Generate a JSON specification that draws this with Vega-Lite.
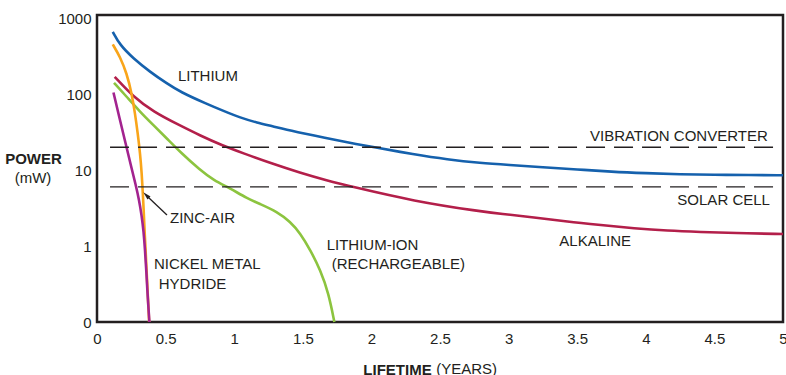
{
  "$schema": "https://vega.github.io/schema/vega-lite/v6.json",
  "autosize": "none",
  "width": 686,
  "height": 307,
  "padding": {"left": 97, "top": 15, "right": 3, "bottom": 53},
  "background": "white",
  "config": {
    "font": "Liberation Sans",
    "view": {"stroke": "#231f20", "strokeWidth": 2.5},
    "axis": {"grid": false, "ticks": false, "domain": false, "labelFontSize": 15, "labelColor": "#231f20", "titleColor": "#231f20", "titleFontSize": 15, "titleFontWeight": "bold", "labelOverlap": false},
    "axisX": {"labelPadding": 9, "labelFlush": false, "titleX": 300, "titleY": 52, "titleAlign": "center", "titleBaseline": "alphabetic"},
    "axisY": {"labelPadding": 6, "titleAngle": 0, "titleX": -64, "titleY": 143, "titleAlign": "center", "titleBaseline": "middle"}
  },
  "datasets": {
    "curves": [
      {"s": "Lithium", "t": 0.115, "p": 661},
      {"s": "Lithium", "t": 0.168, "p": 441},
      {"s": "Lithium", "t": 0.265, "p": 295},
      {"s": "Lithium", "t": 0.387, "p": 196},
      {"s": "Lithium", "t": 0.509, "p": 138},
      {"s": "Lithium", "t": 0.606, "p": 107},
      {"s": "Lithium", "t": 0.801, "p": 74},
      {"s": "Lithium", "t": 0.922, "p": 60},
      {"s": "Lithium", "t": 1.044, "p": 49},
      {"s": "Lithium", "t": 1.166, "p": 42},
      {"s": "Lithium", "t": 1.287, "p": 37.5},
      {"s": "Lithium", "t": 1.36, "p": 34.5},
      {"s": "Lithium", "t": 1.579, "p": 28.5},
      {"s": "Lithium", "t": 1.823, "p": 23.2},
      {"s": "Lithium", "t": 2.017, "p": 20.0},
      {"s": "Lithium", "t": 2.309, "p": 16.1},
      {"s": "Lithium", "t": 2.553, "p": 13.8},
      {"s": "Lithium", "t": 2.796, "p": 12.4},
      {"s": "Lithium", "t": 3.0, "p": 11.7},
      {"s": "Lithium", "t": 3.25, "p": 10.9},
      {"s": "Lithium", "t": 3.5, "p": 10.2},
      {"s": "Lithium", "t": 3.75, "p": 9.5},
      {"s": "Lithium", "t": 4.0, "p": 9.1},
      {"s": "Lithium", "t": 4.25, "p": 8.8},
      {"s": "Lithium", "t": 4.5, "p": 8.65},
      {"s": "Lithium", "t": 4.75, "p": 8.6},
      {"s": "Lithium", "t": 5.0, "p": 8.55},
      {"s": "Alkaline", "t": 0.129, "p": 169},
      {"s": "Alkaline", "t": 0.265, "p": 92},
      {"s": "Alkaline", "t": 0.411, "p": 58.5},
      {"s": "Alkaline", "t": 0.606, "p": 38.5},
      {"s": "Alkaline", "t": 0.752, "p": 28.5},
      {"s": "Alkaline", "t": 0.91, "p": 21.2},
      {"s": "Alkaline", "t": 1.068, "p": 16.6},
      {"s": "Alkaline", "t": 1.263, "p": 12.4},
      {"s": "Alkaline", "t": 1.482, "p": 9.2},
      {"s": "Alkaline", "t": 1.677, "p": 7.3},
      {"s": "Alkaline", "t": 1.847, "p": 6.1},
      {"s": "Alkaline", "t": 2.309, "p": 3.9},
      {"s": "Alkaline", "t": 2.796, "p": 2.85},
      {"s": "Alkaline", "t": 2.942, "p": 2.66},
      {"s": "Alkaline", "t": 3.185, "p": 2.39},
      {"s": "Alkaline", "t": 3.428, "p": 2.09},
      {"s": "Alkaline", "t": 3.672, "p": 1.89},
      {"s": "Alkaline", "t": 3.915, "p": 1.71},
      {"s": "Alkaline", "t": 4.158, "p": 1.59},
      {"s": "Alkaline", "t": 4.401, "p": 1.53},
      {"s": "Alkaline", "t": 4.645, "p": 1.48},
      {"s": "Alkaline", "t": 5.0, "p": 1.44},
      {"s": "Lithium-ion", "t": 0.124, "p": 141},
      {"s": "Lithium-ion", "t": 0.217, "p": 92},
      {"s": "Lithium-ion", "t": 0.314, "p": 58.5},
      {"s": "Lithium-ion", "t": 0.411, "p": 39.1},
      {"s": "Lithium-ion", "t": 0.509, "p": 26.1},
      {"s": "Lithium-ion", "t": 0.606, "p": 17.3},
      {"s": "Lithium-ion", "t": 0.752, "p": 10},
      {"s": "Lithium-ion", "t": 0.849, "p": 7.39},
      {"s": "Lithium-ion", "t": 0.971, "p": 5.74},
      {"s": "Lithium-ion", "t": 1.093, "p": 4.25},
      {"s": "Lithium-ion", "t": 1.19, "p": 3.57},
      {"s": "Lithium-ion", "t": 1.312, "p": 2.83},
      {"s": "Lithium-ion", "t": 1.409, "p": 2.09},
      {"s": "Lithium-ion", "t": 1.482, "p": 1.47},
      {"s": "Lithium-ion", "t": 1.555, "p": 0.886},
      {"s": "Lithium-ion", "t": 1.628, "p": 0.483},
      {"s": "Lithium-ion", "t": 1.688, "p": 0.239},
      {"s": "Lithium-ion", "t": 1.73, "p": 0.1},
      {"s": "Zinc-air", "t": 0.115, "p": 451},
      {"s": "Zinc-air", "t": 0.168, "p": 310},
      {"s": "Zinc-air", "t": 0.217, "p": 187},
      {"s": "Zinc-air", "t": 0.253, "p": 102},
      {"s": "Zinc-air", "t": 0.277, "p": 55.7},
      {"s": "Zinc-air", "t": 0.297, "p": 30.4},
      {"s": "Zinc-air", "t": 0.314, "p": 16.6},
      {"s": "Zinc-air", "t": 0.326, "p": 9.06},
      {"s": "Zinc-air", "t": 0.334, "p": 4.93},
      {"s": "Zinc-air", "t": 0.341, "p": 2.8},
      {"s": "Zinc-air", "t": 0.347, "p": 1.53},
      {"s": "Zinc-air", "t": 0.353, "p": 1.0},
      {"s": "Zinc-air", "t": 0.363, "p": 0.415},
      {"s": "Zinc-air", "t": 0.372, "p": 0.194},
      {"s": "Zinc-air", "t": 0.38, "p": 0.1},
      {"s": "Nickel metal hydride", "t": 0.12, "p": 105},
      {"s": "Nickel metal hydride", "t": 0.164, "p": 48.3},
      {"s": "Nickel metal hydride", "t": 0.208, "p": 22.6},
      {"s": "Nickel metal hydride", "t": 0.248, "p": 11.3},
      {"s": "Nickel metal hydride", "t": 0.281, "p": 6.55},
      {"s": "Nickel metal hydride", "t": 0.307, "p": 4.03},
      {"s": "Nickel metal hydride", "t": 0.325, "p": 2.56},
      {"s": "Nickel metal hydride", "t": 0.34, "p": 1.53},
      {"s": "Nickel metal hydride", "t": 0.35, "p": 0.886},
      {"s": "Nickel metal hydride", "t": 0.36, "p": 0.455},
      {"s": "Nickel metal hydride", "t": 0.37, "p": 0.207},
      {"s": "Nickel metal hydride", "t": 0.382, "p": 0.1}
    ],
    "refs": [
      {"name": "Vibration converter", "p": 20},
      {"name": "Solar cell", "p": 6}
    ],
    "labels": [
      {"text": "LITHIUM", "t": 0.59, "p": 172.6},
      {"text": "VIBRATION CONVERTER", "t": 3.593, "p": 28.4},
      {"text": "SOLAR CELL", "t": 4.23, "p": 4.06},
      {"text": "ALKALINE", "t": 3.37, "p": 1.17},
      {"text": "ZINC-AIR", "t": 0.532, "p": 2.34},
      {"text": "NICKEL METAL", "t": 0.415, "p": 0.583},
      {"text": "HYDRIDE", "t": 0.45, "p": 0.321},
      {"text": "LITHIUM-ION", "t": 1.674, "p": 1.046},
      {"text": "(RECHARGEABLE)", "t": 1.711, "p": 0.585}
    ],
    "arrow": [
      {"t": 0.51, "p": 2.56, "t2": 0.362, "p2": 4.6}
    ]
  },
  "layer": [
    {
      "data": {"name": "curves"},
      "transform": [{"filter": "datum.s !== 'Nickel metal hydride'"}],
      "mark": {"type": "line", "interpolate": "basis", "strokeWidth": 2.6},
      "encoding": {
        "x": {"field": "t", "type": "quantitative", "title": "LIFETIME", "scale": {"domain": [0, 5], "nice": false, "zero": false}, "axis": {"values": [0, 0.5, 1, 1.5, 2, 2.5, 3, 3.5, 4, 4.5, 5], "labelExpr": "format(datum.value, '~g')"}},
        "y": {"field": "p", "type": "quantitative", "title": "POWER", "scale": {"type": "log", "domain": [0.1, 1100], "nice": false}, "axis": {"values": [0.1, 1, 10, 100, 1000], "labelExpr": "datum.value < 0.5 ? '0' : format(datum.value, 'd')"}},
        "color": {"field": "s", "type": "nominal", "legend": null, "scale": {"domain": ["Lithium", "Alkaline", "Lithium-ion", "Zinc-air", "Nickel metal hydride"], "range": ["#1561ad", "#b31f4a", "#8cc43f", "#f9a51a", "#a3238f"]}}
      }
    },
    {
      "data": {"name": "curves"},
      "transform": [{"filter": "datum.s === 'Nickel metal hydride'"}],
      "mark": {"type": "line", "interpolate": "basis", "strokeWidth": 2.6},
      "encoding": {
        "x": {"field": "t", "type": "quantitative", "title": "LIFETIME"},
        "y": {"field": "p", "type": "quantitative", "title": "POWER"},
        "color": {"field": "s", "type": "nominal", "legend": null}
      }
    },
    {
      "data": {"name": "refs"},
      "mark": {"type": "rule", "stroke": "#231f20", "strokeWidth": 1.4, "strokeDash": [19, 9]},
      "encoding": {
        "y": {"field": "p", "type": "quantitative", "title": "POWER"},
        "x": {"datum": 0.095, "type": "quantitative", "title": "LIFETIME"},
        "x2": {"datum": 5}
      }
    },
    {
      "data": {"name": "labels"},
      "mark": {"type": "text", "align": "left", "baseline": "middle", "fontSize": 15, "color": "#231f20"},
      "encoding": {
        "x": {"field": "t", "type": "quantitative", "title": "LIFETIME"},
        "y": {"field": "p", "type": "quantitative", "title": "POWER"},
        "text": {"field": "text"}
      }
    },
    {
      "data": {"name": "arrow"},
      "mark": {"type": "rule", "stroke": "#231f20", "strokeWidth": 1.3},
      "encoding": {
        "x": {"field": "t", "type": "quantitative", "title": "LIFETIME"},
        "y": {"field": "p", "type": "quantitative", "title": "POWER"},
        "x2": {"field": "t2"},
        "y2": {"field": "p2"}
      }
    },
    {
      "data": {"name": "arrow"},
      "mark": {"type": "point", "shape": "M0,-1L0.45,0.7L-0.45,0.7Z", "filled": true, "color": "#231f20", "size": 90, "angle": 315, "opacity": 1},
      "encoding": {
        "x": {"field": "t2", "type": "quantitative", "title": "LIFETIME"},
        "y": {"field": "p2", "type": "quantitative", "title": "POWER"}
      }
    },
    {
      "data": {"values": [{}]},
      "mark": {"type": "text", "text": "(mW)", "align": "center", "baseline": "middle", "fontSize": 15, "color": "#231f20", "dx": -64, "dy": 8},
      "encoding": {
        "x": {"datum": 0, "type": "quantitative", "title": "LIFETIME"},
        "y": {"datum": 10, "type": "quantitative", "title": "POWER"}
      }
    },
    {
      "data": {"values": [{}]},
      "mark": {"type": "text", "text": "(YEARS)", "align": "left", "baseline": "alphabetic", "fontSize": 15, "color": "#231f20", "dy": 52},
      "encoding": {
        "x": {"datum": 2.472, "type": "quantitative", "title": "LIFETIME"},
        "y": {"datum": 0.1, "type": "quantitative", "title": "POWER"}
      }
    }
  ]
}
